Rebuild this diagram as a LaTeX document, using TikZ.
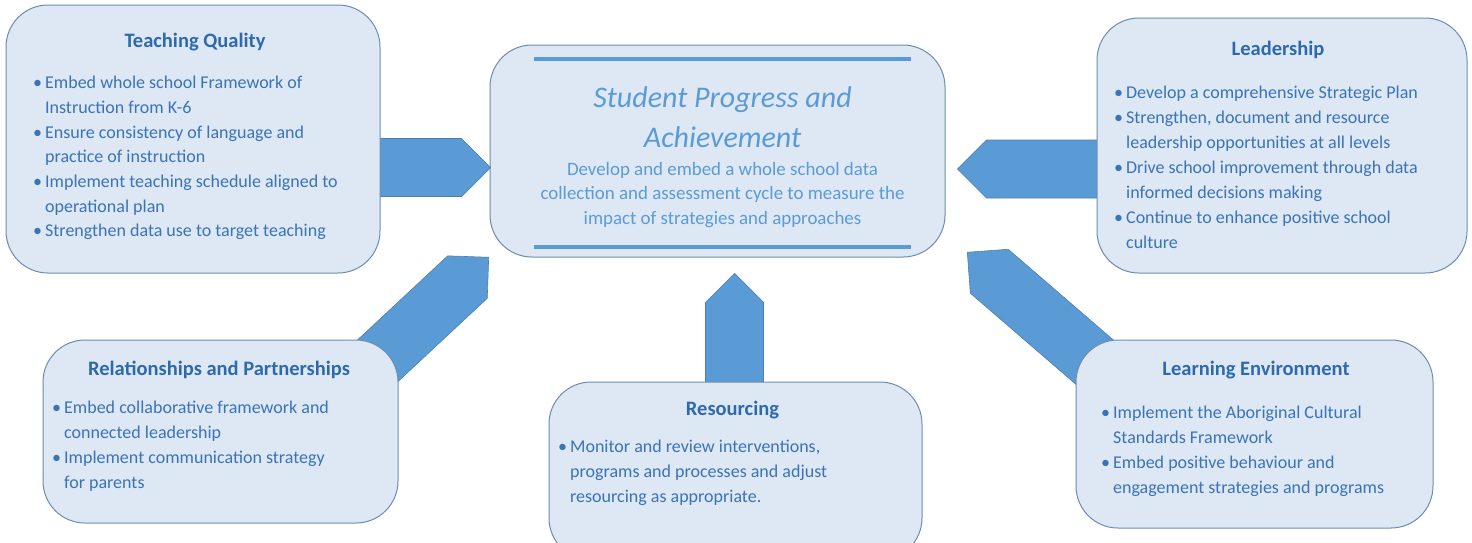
\documentclass[tikz,border=0pt]{standalone}
\usepackage{fontspec}
\setmainfont{Carlito}
\usetikzlibrary{positioning, shapes.arrows}
\definecolor{boxfill}{HTML}{DDE8F4}
\definecolor{boxline}{HTML}{6E8CB0}
\definecolor{arrowfill}{HTML}{5B9BD5}
\definecolor{arrowline}{HTML}{4A7EB0}
\definecolor{headblue}{HTML}{2E6AAB}
\definecolor{textblue}{HTML}{3A73B6}
\definecolor{lightblue}{HTML}{5B9BD5}
\newcommand{\bul}{\textbullet\hspace{3pt}}
\newcommand{\ind}{\hphantom{\bul}}

\begin{document}
\begin{tikzpicture}[
    x=1pt, y=-1pt,
    area/.style={draw=boxline, line width=1pt, fill=boxfill, rounded corners=42pt, inner sep=0pt},
    heading/.style={font=\fontsize{20.5}{24}\selectfont\bfseries, text=headblue, inner sep=0pt},
    points/.style={font=\fontsize{18}{25}\selectfont, text=textblue, align=left, anchor=north west, inner sep=0pt},
    push/.style={single arrow, single arrow head extend=0pt, fill=arrowfill, draw=arrowline, line width=0.6pt, minimum width=58pt, inner sep=0pt, anchor=tip},
    bar/.style={draw=lightblue, line width=4pt}
]
\useasboundingbox (0,0) rectangle (1472,542);
\clip (0,0) rectangle (1472,542);

% Centre box
\node[area, minimum width=455pt, minimum height=212pt] (goal) at (717.5,151) {};
\draw[bar] (534,58.5) -- (911,58.5);
\draw[bar] (534,246.5) -- (911,246.5);
\node[anchor=north, align=center, inner sep=0pt, text=lightblue,
      font=\fontsize{30}{40}\selectfont\itshape] (goaltitle) at (722.5,86)
      {Student Progress and\\Achievement};
\node[anchor=north, align=center, inner sep=0pt, text=lightblue,
      font=\fontsize{18.9}{24.5}\selectfont] (goaltext) at (722.5,162)
      {Develop and embed a whole school data\\collection and assessment cycle to measure the\\impact of strategies and approaches};

% Arrows (tips at the centre box, tails under the outer boxes)
\node[push, minimum height=121pt, rotate=0] (pushtq) at (491,167.5) {};
\node[push, minimum height=148pt, rotate=180] (pushlead) at (957,169) {};
\node[push, minimum height=117pt, rotate=90] (pushres) at (734.5,273) {};
\node[push, minimum height=163pt, rotate=43] (pushrel) at (489,257) {};
\node[push, minimum height=185pt, rotate=139.2] (pushenv) at (967,252) {};

% Outer boxes
\node[area, minimum width=374pt, minimum height=268pt] (teach) at (193,139) {};
\node[area, minimum width=370pt, minimum height=255pt] (lead) at (1282,145.5) {};
\node[area, minimum width=355pt, minimum height=183pt] (rel) at (220.5,431.5) {};
\node[area, minimum width=373pt, minimum height=178pt] (res) at (735.5,471) {};
\node[area, minimum width=357pt, minimum height=188pt] (env) at (1254.5,434) {};

% Teaching Quality
\node[heading] (teachtitle) at (195,42) {Teaching Quality};
\node[points, font=\fontsize{18}{24.7}\selectfont] (teachlist) at (33,76) {\bul Embed whole school Framework of\\\ind Instruction from K-6\\\bul Ensure consistency of language and\\\ind practice of instruction\\\bul Implement teaching schedule aligned to\\\ind operational plan\\\bul Strengthen data use to target teaching};

% Leadership
\node[heading] (leadtitle) at (1278,50) {Leadership};
\node[points] (leadlist) at (1114,86) {\bul Develop a comprehensive Strategic Plan\\\bul Strengthen, document and resource\\\ind leadership opportunities at all levels\\\bul Drive school improvement through data\\\ind informed decisions making\\\bul Continue to enhance positive school\\\ind culture};

% Relationships and Partnerships
\node[heading] (reltitle) at (219,370) {Relationships and Partnerships};
\node[points] (rellist) at (52,401) {\bul Embed collaborative framework and\\\ind connected leadership\\\bul Implement communication strategy\\\ind for parents};

% Resourcing
\node[heading] (restitle) at (732.5,410) {Resourcing};
\node[points] (reslist) at (558,440) {\bul Monitor and review interventions,\\\ind programs and processes and adjust\\\ind resourcing as appropriate.};

% Learning Environment
\node[heading] (envtitle) at (1256,370) {Learning Environment};
\node[points] (envlist) at (1101,406) {\bul Implement the Aboriginal Cultural\\\ind Standards Framework\\\bul Embed positive behaviour and\\\ind engagement strategies and programs};

\end{tikzpicture}
\end{document}
